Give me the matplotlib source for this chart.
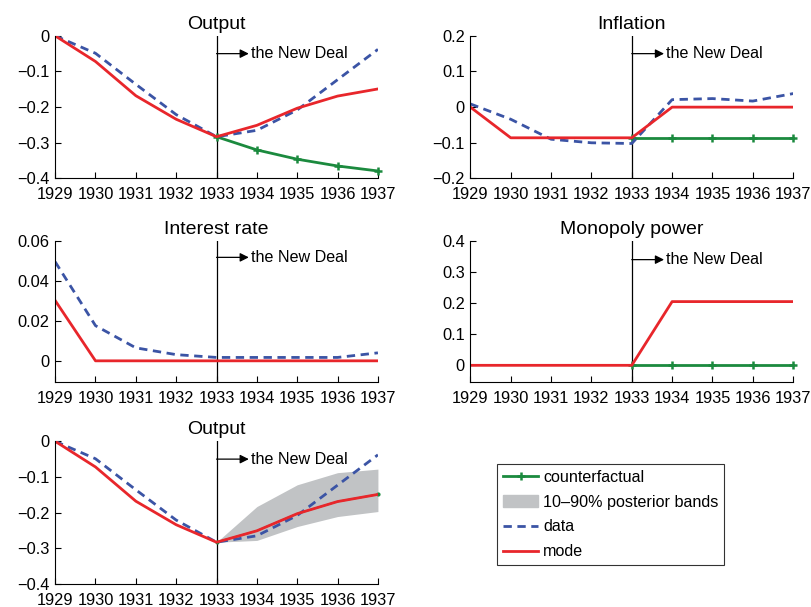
import matplotlib
matplotlib.use("Agg")
import matplotlib.pyplot as plt
from matplotlib.ticker import FuncFormatter
from matplotlib.patches import Patch
from matplotlib.lines import Line2D

plt.rcParams['font.family'] = ['Liberation Sans', 'DejaVu Sans']
plt.rcParams['font.size'] = 11.5

years = [1929, 1930, 1931, 1932, 1933, 1934, 1935, 1936, 1937]
cf_years = [1933, 1934, 1935, 1936, 1937]

# output
out_data = [0, -0.049, -0.136, -0.221, -0.283, -0.265, -0.208, -0.123, -0.038]
out_mode = [0, -0.072, -0.168, -0.234, -0.283, -0.251, -0.203, -0.169, -0.149]
out_cf = [-0.283, -0.320, -0.346, -0.365, -0.379]
band_hi = [-0.283, -0.183, -0.122, -0.088, -0.078]
band_lo = [-0.283, -0.278, -0.239, -0.211, -0.197]

# inflation
inf_data = [0.009, -0.034, -0.090, -0.100, -0.102, 0.021, 0.024, 0.017, 0.038]
inf_mode = [0, -0.086, -0.086, -0.086, -0.086, 0, 0, 0, 0]
inf_cf = [-0.086, -0.086, -0.086, -0.086, -0.086]

# interest rate
ir_data = [0.0496, 0.0176, 0.0065, 0.0031, 0.0017, 0.0017, 0.0017, 0.0017, 0.004]
ir_mode = [0.0302, 0, 0, 0, 0, 0, 0, 0, 0]

# monopoly power
mp_mode = [0, 0, 0, 0, 0, 0.205, 0.205, 0.205, 0.205]
mp_cf = [0, 0, 0, 0, 0]

RED = '#e8262b'
BLUE = '#3b54a5'
GREEN = '#1b8a3e'
GRAY = '#c1c3c5'


def fmt(v, pos):
    if abs(v) < 1e-12:
        return '0'
    return ('%g' % v).replace('-', '\u2212')


def setup(ax, title, ylim, yticks, arrow_y):
    ax.set_xlim(1929, 1937)
    ax.set_ylim(*ylim)
    ax.set_xticks(years)
    ax.set_yticks(yticks)
    ax.yaxis.set_major_formatter(FuncFormatter(fmt))
    ax.spines['top'].set_visible(False)
    ax.spines['right'].set_visible(False)
    ax.tick_params(direction='in', length=4, width=0.8, labelsize=11.8)
    ax.tick_params(axis='x', pad=6.5)
    ax.tick_params(axis='y', pad=4)
    ax.set_title(title, fontsize=14, pad=5)
    ax.axvline(1933, color='black', lw=0.9)
    ax.annotate('', xy=(1933.8, arrow_y), xytext=(1933, arrow_y),
                arrowprops=dict(arrowstyle='-|>', color='black', lw=0.9,
                                mutation_scale=13, shrinkA=0, shrinkB=0))
    ax.text(1933.85, arrow_y, 'the New Deal', va='center', ha='left', fontsize=11.6)


fig = plt.figure(figsize=(8.11, 6.07), dpi=100)
W = 0.398
H = 0.235
ax1 = fig.add_axes([0.068, 0.706, W, H])
ax2 = fig.add_axes([0.580, 0.706, W, H])
ax3 = fig.add_axes([0.068, 0.371, W, 0.232])
ax4 = fig.add_axes([0.580, 0.371, W, 0.232])
ax5 = fig.add_axes([0.068, 0.038, W, H])

lw = 2.0

# Output
setup(ax1, 'Output', (-0.4, 0), [-0.4, -0.3, -0.2, -0.1, 0], -0.05)
ax1.plot(cf_years, out_cf, color=GREEN, lw=lw, marker='+', ms=6, mew=1.8, clip_on=False)
ax1.plot(years, out_data, color=BLUE, lw=lw, ls='--', dashes=(3, 2))
ax1.plot(years, out_mode, color=RED, lw=lw)

# Inflation
setup(ax2, 'Inflation', (-0.2, 0.2), [-0.2, -0.1, 0, 0.1, 0.2], 0.15)
ax2.plot(cf_years, inf_cf, color=GREEN, lw=lw, marker='+', ms=6, mew=1.8, clip_on=False)
ax2.plot(years, inf_data, color=BLUE, lw=lw, ls='--', dashes=(3, 2))
ax2.plot(years, inf_mode, color=RED, lw=lw)

# Interest rate
setup(ax3, 'Interest rate', (-0.0105, 0.06), [0, 0.02, 0.04, 0.06], 0.0518)
ax3.plot(years, ir_data, color=BLUE, lw=lw, ls='--', dashes=(3, 2))
ax3.plot(years, ir_mode, color=RED, lw=lw)

# Monopoly power
setup(ax4, 'Monopoly power', (-0.053, 0.4), [0, 0.1, 0.2, 0.3, 0.4], 0.34)
ax4.plot(cf_years, mp_cf, color=GREEN, lw=lw, marker='+', ms=6, mew=1.8, clip_on=False)
ax4.plot(years, mp_mode, color=RED, lw=lw)

# Output with posterior bands (counterfactual hidden under the mode)
setup(ax5, 'Output', (-0.4, 0), [-0.4, -0.3, -0.2, -0.1, 0], -0.05)
ax5.fill_between(cf_years, band_lo, band_hi, color=GRAY, lw=0)
ax5.plot(cf_years, out_mode[4:], color=GREEN, lw=1.2, marker='.', ms=4,
         markevery=[0, 4], clip_on=False)
ax5.plot(years, out_data, color=BLUE, lw=lw, ls='--', dashes=(3, 2))
ax5.plot(years, out_mode, color=RED, lw=lw)

handles = [
    Line2D([], [], color=GREEN, lw=lw, marker='+', ms=6, mew=1.8),
    Patch(facecolor=GRAY, edgecolor=GRAY),
    Line2D([], [], color=BLUE, lw=lw, ls='--', dashes=(3, 2)),
    Line2D([], [], color=RED, lw=lw),
]
labels = ['counterfactual', '10\u201390% posterior bands', 'data', 'mode']
leg = fig.legend(handles, labels, loc='lower left', bbox_to_anchor=(0.613, 0.069),
                 fontsize=11.6, frameon=True, fancybox=False, numpoints=1,
                 handlelength=2.2, handletextpad=0.3, labelspacing=0.62,
                 borderpad=0.35, borderaxespad=0)
leg.get_frame().set_edgecolor('black')
leg.get_frame().set_linewidth(0.8)

fig.savefig('out.png', dpi=100)
